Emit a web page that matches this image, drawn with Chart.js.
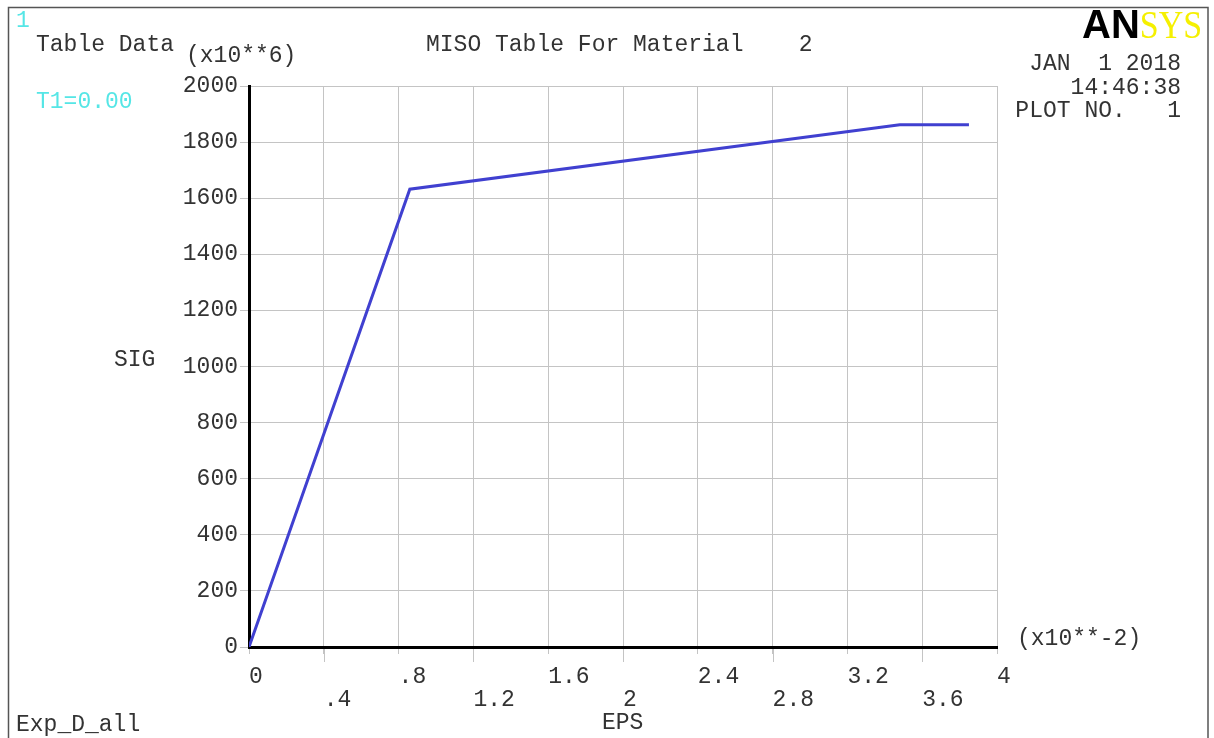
<!DOCTYPE html>
<html>
<head>
<meta charset="utf-8">
<script src="https://cdn.jsdelivr.net/npm/chart.js@4"></script>
<style>
  body { margin: 0; background: #fff; }
  canvas { display: block; }
</style>
</head>
<body>
<canvas id="chart" width="1214" height="738"></canvas>
<script>
// MISO table points (EPS in x10**-2, SIG in x10**6)
const epsValues = [0, 0.86, 3.48, 3.85];
const sigValues = [0, 1632, 1862, 1862];

const xTickLabels = ['0', '.4', '.8', '1.2', '1.6', '2', '2.4', '2.8', '3.2', '3.6', '4'];
const yTickLabels = ['0', '200', '400', '600', '800', '1000', '1200', '1400', '1600', '1800', '2000'];

const FONT = 'Liberation Mono';
const textColor = '#333';
const gridColor = '#c4c4c4';

const points = epsValues.map((e, i) => ({ x: e, y: sigValues[i] }));

// draws the ANSYS style annotations and the frame
const annotations = {
  id: 'annotations',
  afterDraw(chart) {
    const ctx = chart.ctx;
    const area = chart.chartArea;
    const xs = chart.scales.x;
    ctx.save();

    // longer tick marks under the second-row labels
    ctx.strokeStyle = gridColor;
    ctx.lineWidth = 1;
    xTickLabels.forEach((lbl, i) => {
      if (i % 2 === 1) {
        const px = Math.round(xs.getPixelForValue(i * 0.4)) + 0.5;
        ctx.beginPath();
        ctx.moveTo(px, area.bottom + 2);
        ctx.lineTo(px, area.bottom + 15);
        ctx.stroke();
      }
    });

    // outer frame
    ctx.strokeStyle = '#555';
    ctx.lineWidth = 1.5;
    ctx.strokeRect(8.5, 7.5, 1199.5, 740);

    ctx.font = '23px "' + FONT + '"';
    ctx.textBaseline = 'middle';
    ctx.fillStyle = textColor;
    ctx.textAlign = 'left';
    ctx.fillText('Table Data', 36, 45);
    ctx.fillText('(x10**6)', 186, 56);
    ctx.fillText('MISO Table For Material    2', 426, 45);
    ctx.fillText('SIG', 114, 360);
    ctx.fillText('(x10**-2)', 1017, 639);
    ctx.fillText('EPS', 602, 723);
    ctx.fillText('Exp_D_all', 16, 725);

    ctx.textAlign = 'right';
    ctx.fillText('JAN  1 2018', 1181, 64);
    ctx.fillText('14:46:38', 1181, 88);
    ctx.fillText('PLOT NO.   1', 1181, 111);

    ctx.textAlign = 'left';
    ctx.fillStyle = '#55e6e6';
    ctx.fillText('T1=0.00', 36, 102);
    ctx.fillText('1', 16, 21);

    // logo
    ctx.textBaseline = 'alphabetic';
    ctx.font = 'bold 40px "Liberation Sans"';
    ctx.fillStyle = '#000';
    ctx.fillText('AN', 1082, 38);
    const w = ctx.measureText('AN').width;
    ctx.font = '40px "Liberation Serif"';
    ctx.fillStyle = '#f5f000';
    ctx.translate(1082 + w, 38);
    ctx.scale(0.85, 1);
    ctx.fillText('SYS', 0, 0);

    ctx.restore();
  }
};

new Chart(document.getElementById('chart'), {
  type: 'scatter',
  data: {
    datasets: [{
      data: points,
      showLine: true,
      borderColor: 'rgb(64,64,208)',
      borderWidth: 3,
      pointRadius: 0,
      fill: false,
      tension: 0
    }]
  },
  options: {
    responsive: false,
    animation: false,
    layout: { padding: { left: 0, top: 86, right: 217, bottom: 0 } },
    plugins: { legend: { display: false }, tooltip: { enabled: false } },
    scales: {
      x: {
        type: 'linear',
        min: 0,
        max: 4,
        afterFit(scale) { scale.height = 91; },
        afterBuildTicks(scale) {
          scale.ticks = xTickLabels.map((l, i) => ({ value: i * 0.4 }));
        },
        grid: { color: gridColor, lineWidth: 1, tickLength: 7, tickColor: gridColor },
        border: { color: '#000', width: 3 },
        ticks: {
          autoSkip: false,
          maxRotation: 0,
          align: 'start',
          padding: 11,
          color: textColor,
          font: { family: FONT, size: 23, lineHeight: 1.0 },
          callback: (v, i) => (i % 2 === 1 ? ['', xTickLabels[i]] : xTickLabels[i])
        }
      },
      y: {
        type: 'linear',
        min: 0,
        max: 2000,
        afterFit(scale) { scale.width = 249; },
        afterBuildTicks(scale) {
          scale.ticks = yTickLabels.map((l, i) => ({ value: i * 200 }));
        },
        grid: { color: gridColor, lineWidth: 1, tickLength: 9, tickColor: gridColor },
        border: { color: '#000', width: 3 },
        ticks: {
          autoSkip: false,
          padding: 2,
          color: textColor,
          font: { family: FONT, size: 23 },
          callback: (v, i) => yTickLabels[i]
        }
      }
    }
  },
  plugins: [annotations]
});
</script>
</body>
</html>
